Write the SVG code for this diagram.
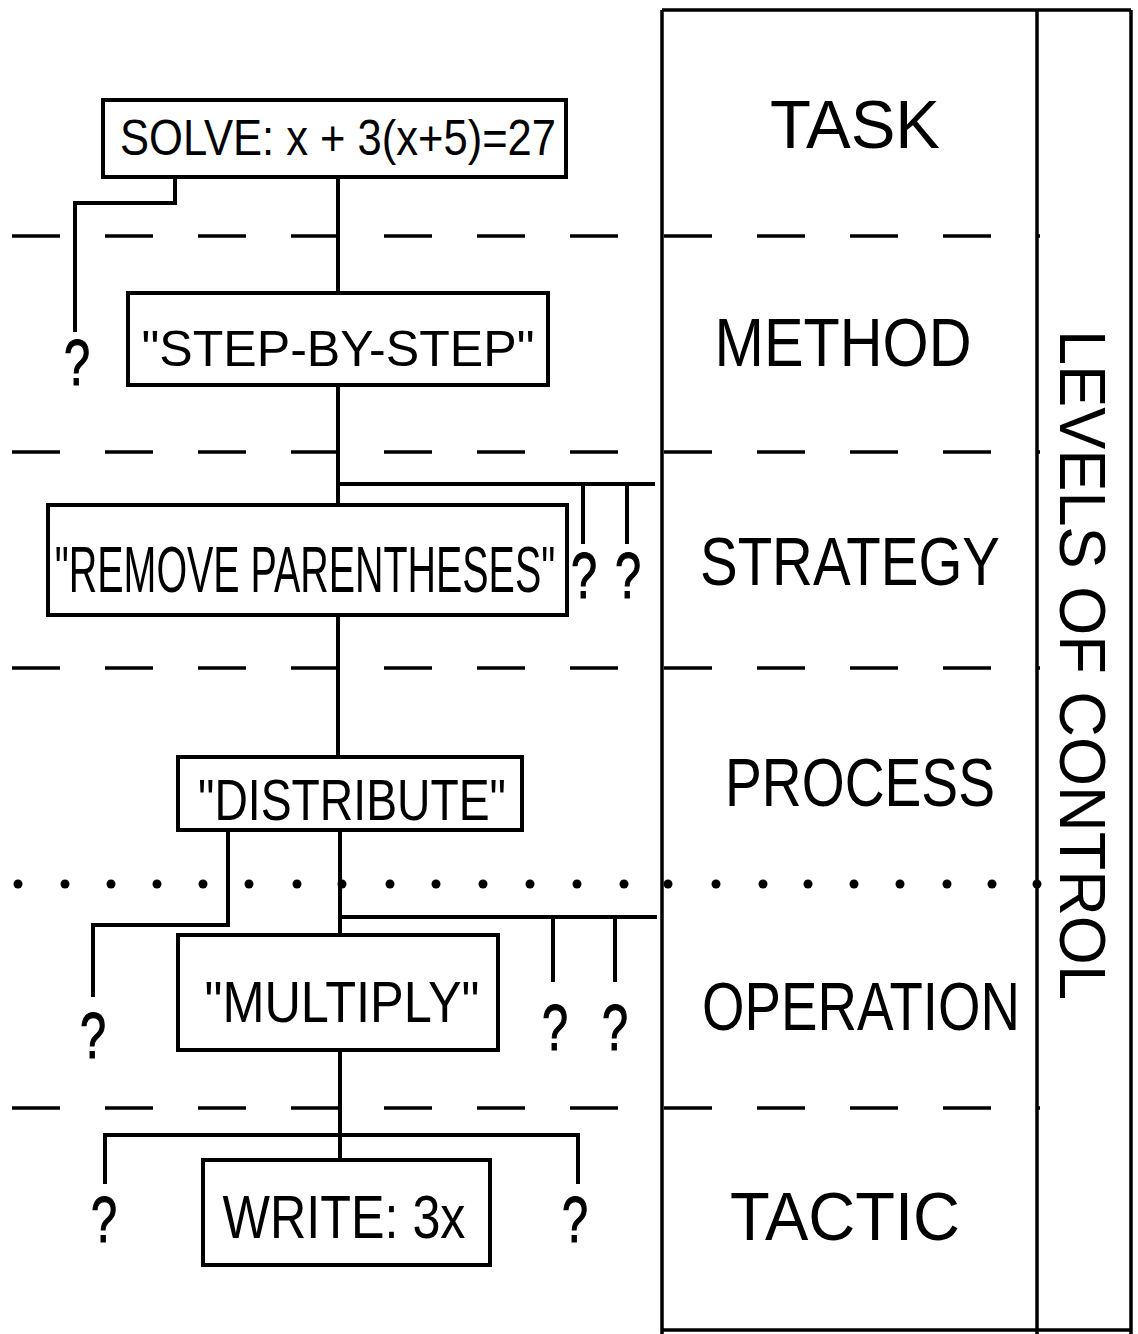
<svg xmlns="http://www.w3.org/2000/svg" width="1138" height="1334" viewBox="0 0 1138 1334">
  <style>
    .box { fill: #fff; stroke: #000; stroke-width: 4; }
    .wire { fill: none; stroke: #000; stroke-width: 4; stroke-linecap: square; }
    .frame { fill: none; stroke: #000; stroke-width: 3.5; }
    .dash { stroke: #000; stroke-width: 3.5; stroke-dasharray: 48 45; }
    .dot { fill: #000; }
    .t { font-family: "Liberation Sans", Arial, sans-serif; fill: #000; text-anchor: middle; }
    .node { font-size: 50px; }
    .lvl { font-size: 68px; }
    .q { font-size: 64px; stroke: #000; stroke-width: 1.2; }
  </style>
  <defs>
    <circle id="d" r="4.5" class="dot"/>
  </defs>
  <rect width="1138" height="1334" fill="#fff"/>

  <!-- level frame -->
  <g id="frame" class="frame">
    <path d="M662 10 H1131 M662 10 V1334 M1037 10 V1334 M1131 10 V1334 M662 1330 H1131"/>
  </g>

  <!-- level separators -->
  <g id="separators">
    <line class="dash" x1="12" y1="236" x2="625" y2="236"/>
    <line class="dash" x1="664" y1="236" x2="1040" y2="236"/>
    <line class="dash" x1="12" y1="452" x2="625" y2="452"/>
    <line class="dash" x1="664" y1="452" x2="1040" y2="452"/>
    <line class="dash" x1="12" y1="668" x2="625" y2="668"/>
    <line class="dash" x1="664" y1="668" x2="1040" y2="668"/>
    <line class="dash" x1="12" y1="1108" x2="625" y2="1108"/>
    <line class="dash" x1="664" y1="1108" x2="1040" y2="1108"/>
    <g id="dotted">
      <use href="#d" x="18" y="884"/><use href="#d" x="65" y="884"/><use href="#d" x="111" y="884"/>
      <use href="#d" x="157" y="884"/><use href="#d" x="203" y="884"/><use href="#d" x="249" y="884"/>
      <use href="#d" x="297" y="884"/><use href="#d" x="342" y="884"/><use href="#d" x="390" y="884"/>
      <use href="#d" x="436" y="884"/><use href="#d" x="483" y="884"/><use href="#d" x="530" y="884"/>
      <use href="#d" x="577" y="884"/><use href="#d" x="624" y="884"/>
      <use href="#d" x="668" y="884"/><use href="#d" x="716" y="884"/><use href="#d" x="763" y="884"/>
      <use href="#d" x="808" y="884"/><use href="#d" x="854" y="884"/><use href="#d" x="900" y="884"/>
      <use href="#d" x="947" y="884"/><use href="#d" x="992" y="884"/><use href="#d" x="1037" y="884"/>
    </g>
  </g>

  <!-- connectors -->
  <g id="connectors" class="wire">
    <path d="M338 177 V293"/>
    <path d="M175 177 V203 H75 V330"/>
    <path d="M338 385 V505"/>
    <path d="M338 484 H653 M583 484 V542 M627 484 V542"/>
    <path d="M338 615 V757"/>
    <path d="M228 830 V925 H93 V995"/>
    <path d="M340 830 V935"/>
    <path d="M340 917 H655 M553 917 V980 M615 917 V980"/>
    <path d="M340 1050 V1160"/>
    <path d="M105 1135 H578 M105 1135 V1182 M578 1135 V1182"/>
  </g>

  <!-- unknown alternatives (narrowed question marks) -->
  <g id="unknowns" class="t q">
    <text transform="translate(77 385) scale(0.73 1)">?</text>
    <text transform="translate(584 598) scale(0.73 1)">?</text>
    <text transform="translate(628 598) scale(0.73 1)">?</text>
    <text transform="translate(93 1058) scale(0.73 1)">?</text>
    <text transform="translate(555 1050) scale(0.73 1)">?</text>
    <text transform="translate(615 1050) scale(0.73 1)">?</text>
    <text transform="translate(104 1242) scale(0.73 1)">?</text>
    <text transform="translate(575 1242) scale(0.73 1)">?</text>
  </g>

  <!-- nodes -->
  <g id="n-solve">
    <rect class="box" x="103" y="100" width="463" height="77"/>
    <text class="t node" x="338" y="155" textLength="436" lengthAdjust="spacingAndGlyphs">SOLVE: x + 3(x+5)=27</text>
  </g>
  <g id="n-step">
    <rect class="box" x="128" y="293" width="420" height="92"/>
    <text class="t node" x="338" y="366" textLength="393" lengthAdjust="spacingAndGlyphs">"STEP-BY-STEP"</text>
  </g>
  <g id="n-remove">
    <rect class="box" x="48" y="505" width="519" height="110"/>
    <!-- condensed lettering: natural width ~817px squeezed to ~503px -->
    <text class="t" style="font-size:64px" transform="translate(305 592) scale(0.616 1)">"REMOVE PARENTHESES"</text>
  </g>
  <g id="n-distribute">
    <rect class="box" x="178" y="757" width="344" height="73"/>
    <text class="t" style="font-size:58px" x="352" y="820" textLength="308" lengthAdjust="spacingAndGlyphs">"DISTRIBUTE"</text>
  </g>
  <g id="n-multiply">
    <rect class="box" x="178" y="935" width="320" height="115"/>
    <text class="t" style="font-size:58px" x="342" y="1022" textLength="275" lengthAdjust="spacingAndGlyphs">"MULTIPLY"</text>
  </g>
  <g id="n-write">
    <rect class="box" x="203" y="1160" width="287" height="105"/>
    <text class="t" style="font-size:62px" x="344" y="1238" textLength="243" lengthAdjust="spacingAndGlyphs">WRITE: 3x</text>
  </g>

  <!-- level names -->
  <g id="levels" class="t lvl">
    <text x="855" y="148" textLength="170" lengthAdjust="spacingAndGlyphs">TASK</text>
    <text x="843" y="366" textLength="257" lengthAdjust="spacingAndGlyphs">METHOD</text>
    <text x="850" y="585" textLength="300" lengthAdjust="spacingAndGlyphs">STRATEGY</text>
    <text x="860" y="806" textLength="270" lengthAdjust="spacingAndGlyphs">PROCESS</text>
    <text x="861" y="1030" textLength="318" lengthAdjust="spacingAndGlyphs">OPERATION</text>
    <text x="845" y="1240" textLength="230" lengthAdjust="spacingAndGlyphs">TACTIC</text>
  </g>
  <g id="levels-of-control">
    <text class="t" font-size="64" transform="translate(1060 665) rotate(90)" textLength="670" lengthAdjust="spacingAndGlyphs">LEVELS OF CONTROL</text>
  </g>
</svg>
